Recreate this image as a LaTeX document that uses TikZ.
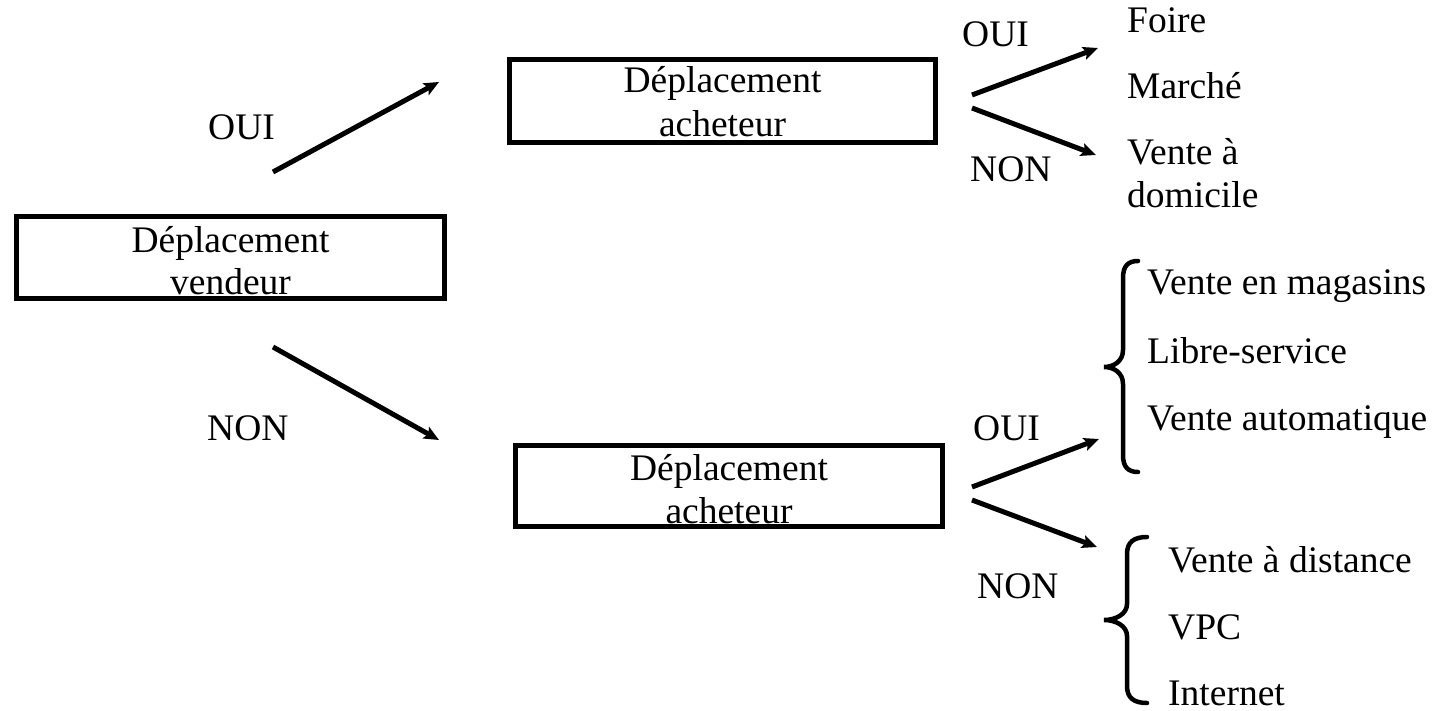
\documentclass[tikz,border=0pt]{standalone}
\usepackage{fontspec}
\setmainfont{Liberation Serif}
\usetikzlibrary{arrows.meta}
\begin{document}
\begin{tikzpicture}[x=1pt,y=-1pt,
  every node/.style={font=\fontsize{37.5}{43}\selectfont, inner sep=0pt},
  box/.style={draw, line width=5pt, align=center},
  arr/.style={line width=5pt, -{Stealth[length=15pt,width=13pt,inset=3pt]}},
  lbl/.style={anchor=base west},
  brc/.style={line width=4.5pt, line cap=round}]
\useasboundingbox (0,0) rectangle (1443,711);
% boxes
\node[box, minimum width=428pt, minimum height=82pt] (vend) at (230.5,257.5) {};
\node[box, minimum width=426pt, minimum height=83pt] (ach1) at (722.5,101) {};
\node[box, minimum width=427pt, minimum height=81pt] (ach2) at (729,486) {};
\node[anchor=base] (vendt) at (230.5,253) {Déplacement};
\node[anchor=base] (vendt2) at (230.5,295) {vendeur};
\node[anchor=base] (ach1t) at (722.5,93) {Déplacement};
\node[anchor=base] (ach1t2) at (722.5,137) {acheteur};
\node[anchor=base] (ach2t) at (729,480) {Déplacement};
\node[anchor=base] (ach2t2) at (729,523) {acheteur};
% arrow end points
\coordinate (a1s) at (273,172); \coordinate (a1e) at (439,82);
\coordinate (a2s) at (273,347); \coordinate (a2e) at (439,440);
\coordinate (b1s) at (972,95);  \coordinate (b1e) at (1098,48);
\coordinate (b2s) at (972,108); \coordinate (b2e) at (1096,155);
\coordinate (c1s) at (972,487); \coordinate (c1e) at (1099,439);
\coordinate (c2s) at (972,500); \coordinate (c2e) at (1097,547);
\draw[arr] (a1s) -- (a1e);
\draw[arr] (a2s) -- (a2e);
\draw[arr] (b1s) -- (b1e);
\draw[arr] (b2s) -- (b2e);
\draw[arr] (c1s) -- (c1e);
\draw[arr] (c2s) -- (c2e);
% labels
\node[lbl] (l1) at (208,140) {OUI};
\node[lbl] (l2) at (207,440) {NON};
\node[lbl] (l3) at (962,47) {OUI};
\node[lbl] (l4) at (970,182) {NON};
\node[lbl] (l5) at (973,440) {OUI};
\node[lbl] (l6) at (977,598) {NON};
% outcomes
\node[lbl] (o1) at (1127,33) {Foire};
\node[lbl] (o2) at (1127,99) {Marché};
\node[lbl] (o3) at (1127,165) {Vente à};
\node[lbl] (o4) at (1127,208) {domicile};
\node[lbl] (o5) at (1147,295) {Vente en magasins};
\node[lbl] (o6) at (1147,363) {Libre-service};
\node[lbl] (o7) at (1147,430) {Vente automatique};
\node[lbl] (o8) at (1168,572) {Vente à distance};
\node[lbl] (o9) at (1168,639) {VPC};
\node[lbl] (o10) at (1168,705) {Internet};
% braces
\draw[brc] (1138,261) .. controls (1128,261) and (1123,266) .. (1123,278) -- (1123,350)
  .. controls (1123,361) and (1114,367) .. (1104,367)
  .. controls (1114,367) and (1123,373) .. (1123,384) -- (1123,455)
  .. controls (1123,467) and (1128,472) .. (1138,472);
\draw[brc] (1147,537) .. controls (1134,537) and (1127,542) .. (1127,554) -- (1127,604)
  .. controls (1127,614) and (1116,620) .. (1104,620)
  .. controls (1116,620) and (1127,626) .. (1127,636) -- (1127,686)
  .. controls (1127,698) and (1134,703) .. (1147,703);
\end{tikzpicture}
\end{document}
